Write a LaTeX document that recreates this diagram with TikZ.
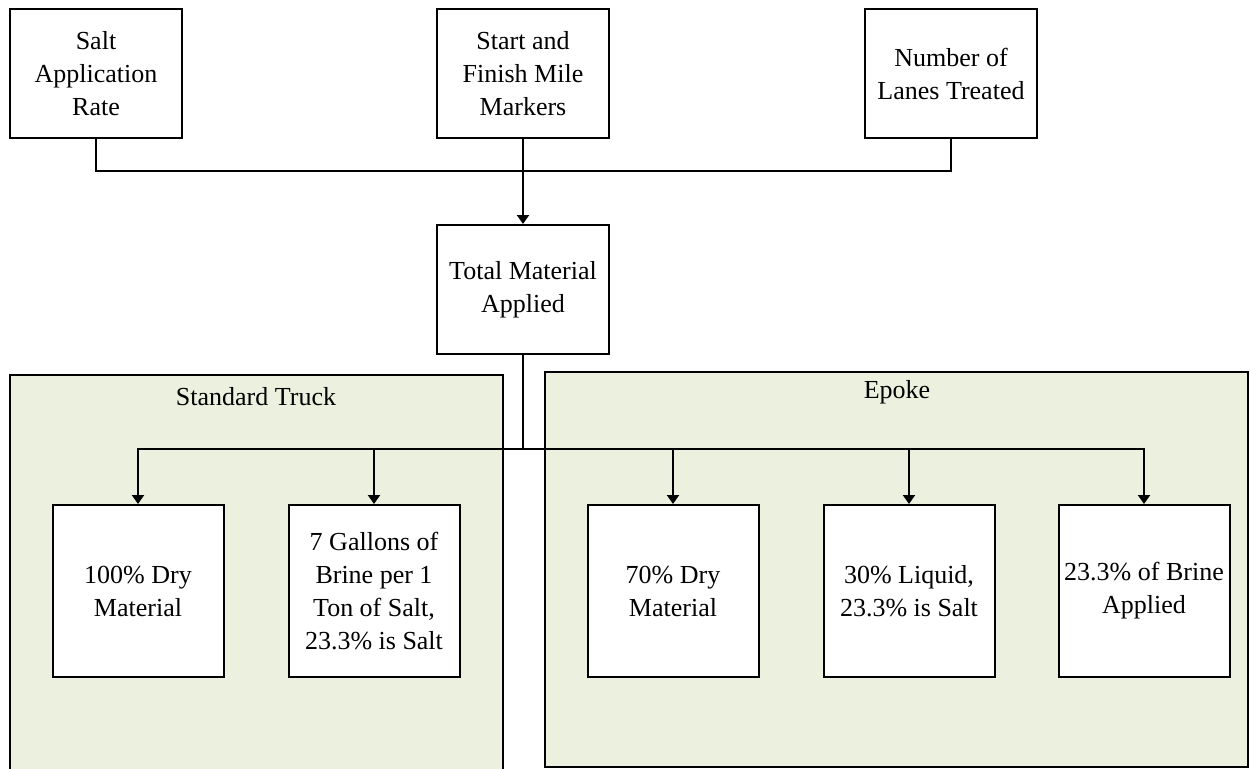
\documentclass[tikz,border=0pt]{standalone}
\usepackage{fontspec}
\setmainfont{Liberation Serif}
\usetikzlibrary{arrows.meta}
\definecolor{panelgreen}{HTML}{EBF1DE}

\begin{document}
\begin{tikzpicture}[x=0.5pt, y=-0.5pt, line width=1pt,
		box/.style={draw, fill=white, align=center, inner sep=0pt, minimum width=86pt, minimum height=64.5pt, font=\fontsize{13}{16.5}\selectfont},
		lowbox/.style={box, minimum width=85.5pt, minimum height=86pt},
		panel/.style={draw, fill=panelgreen},
		title/.style={font=\fontsize{13}{16.5}\selectfont},
		>={Triangle[length=4.5pt, width=6pt]}]
		\useasboundingbox (0,0) rectangle (1250,768);
		
		%panels
		\draw[panel] (10,375) rectangle (503,790);
		\draw[panel] (545,372) rectangle (1248,767);
		\node[title] (truck) at (256,397){Standard Truck};
		\node[title] (epoke) at (897,392){Epoke};
		
		%inputs
		\node[box] (salt) at (96,73.5){Salt\\Application\\Rate};
		\node[box] (miles) at (523,73.5){Start and\\Finish Mile\\Markers};
		\node[box] (lanes) at (951,73.5){Number of\\Lanes Treated};
		\node[box] (total) at (523,289.5){Total Material\\Applied};
		
		\coordinate (join) at (523,171);
		\coordinate (split) at (523,449);
		\draw (salt.south) |- (join) -| (lanes.south);
		\draw[->] (miles.south) -- (total.north);
		\draw (total.south) -- (split);
		
		%outputs
		\node[lowbox] (drytruck) at (138,591){100\% Dry\\Material};
		\node[lowbox] (brinetruck) at (374,591){7 Gallons of\\Brine per 1\\Ton of Salt,\\23.3\% is Salt};
		\node[lowbox] (dryepoke) at (673,591){70\% Dry\\Material};
		\node[lowbox] (liquidepoke) at (909,591){30\% Liquid,\\23.3\% is Salt};
		\node[lowbox] (brineepoke) at (1144,591){23.3\% of Brine\\Applied};
		
		\foreach \n in {drytruck, brinetruck, dryepoke, liquidepoke, brineepoke}{
			\draw[->] (split) -| (\n.north);
		}
		\end{tikzpicture}
\end{document}
